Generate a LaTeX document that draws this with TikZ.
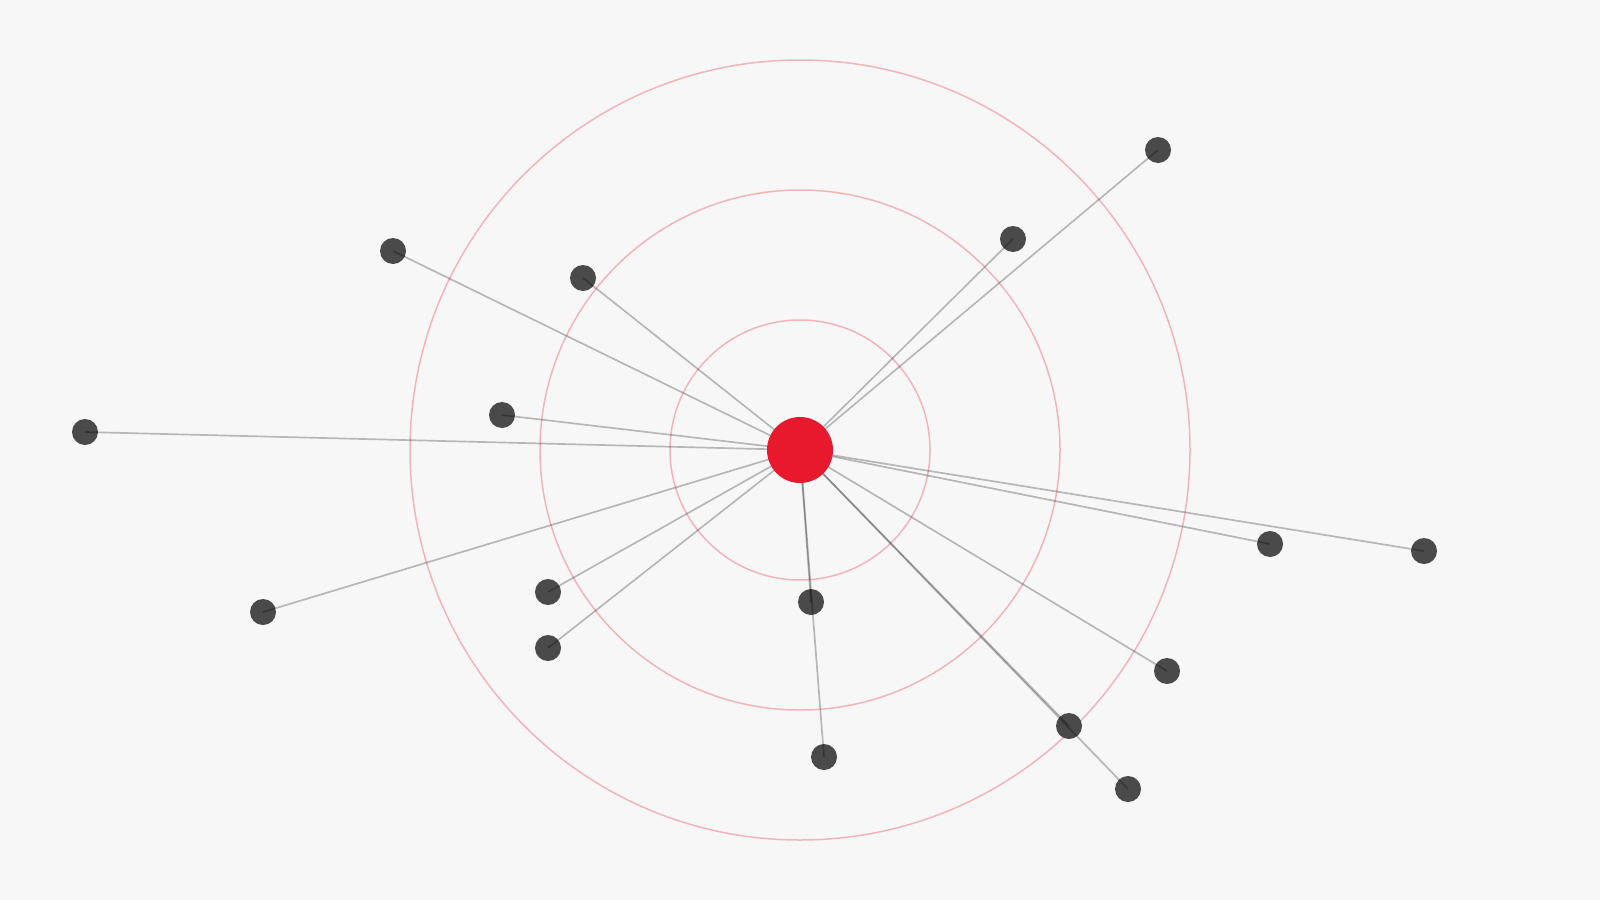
\documentclass[tikz,border=0pt]{standalone}
\begin{document}
\begin{tikzpicture}[x=0.01cm,y=-0.01cm,
  leaf/.style={circle,fill=leafgray,draw=none,minimum size=26\pxu,inner sep=0pt},
  hub/.style={circle,fill=hubred,draw=none,minimum size=66\pxu,inner sep=0pt},
  ring/.style={draw=hubred,draw opacity=0.3,line width=1.5\pxu},
  link/.style={draw=black,draw opacity=0.26,line width=1.7\pxu}]
\def\pxu{*0.01cm}
\definecolor{leafgray}{HTML}{4A4A4A}
\definecolor{hubred}{HTML}{E8192C}
\definecolor{bg}{HTML}{F7F7F7}
\fill[bg] (0,0) rectangle (1600,900);
\useasboundingbox (0,0) rectangle (1600,900);
\coordinate (c) at (800,450);
\draw[ring] (c) circle[radius=130];
\draw[ring] (c) circle[radius=260];
\draw[ring] (c) circle[radius=390];
\node[leaf] (n1) at (1158,150) {};
\node[leaf] (n2) at (1013,239) {};
\node[leaf] (n3) at (393,251) {};
\node[leaf] (n4) at (583,278) {};
\node[leaf] (n5) at (502,415) {};
\node[leaf] (n6) at (85,432) {};
\node[leaf] (n7) at (1270,544) {};
\node[leaf] (n8) at (1424,551) {};
\node[leaf] (n9) at (263,612) {};
\node[leaf] (n10) at (548,592) {};
\node[leaf] (n11) at (548,648) {};
\node[leaf] (n12) at (811,602) {};
\node[leaf] (n13) at (1167,671) {};
\node[leaf] (n14) at (1069,726) {};
\node[leaf] (n15) at (824,757) {};
\node[leaf] (n16) at (1128,789) {};
\foreach \i in {1,...,16}{\draw[link] (c) -- (n\i.center);}
\node[hub] (hub) at (c) {};
\end{tikzpicture}
\end{document}
